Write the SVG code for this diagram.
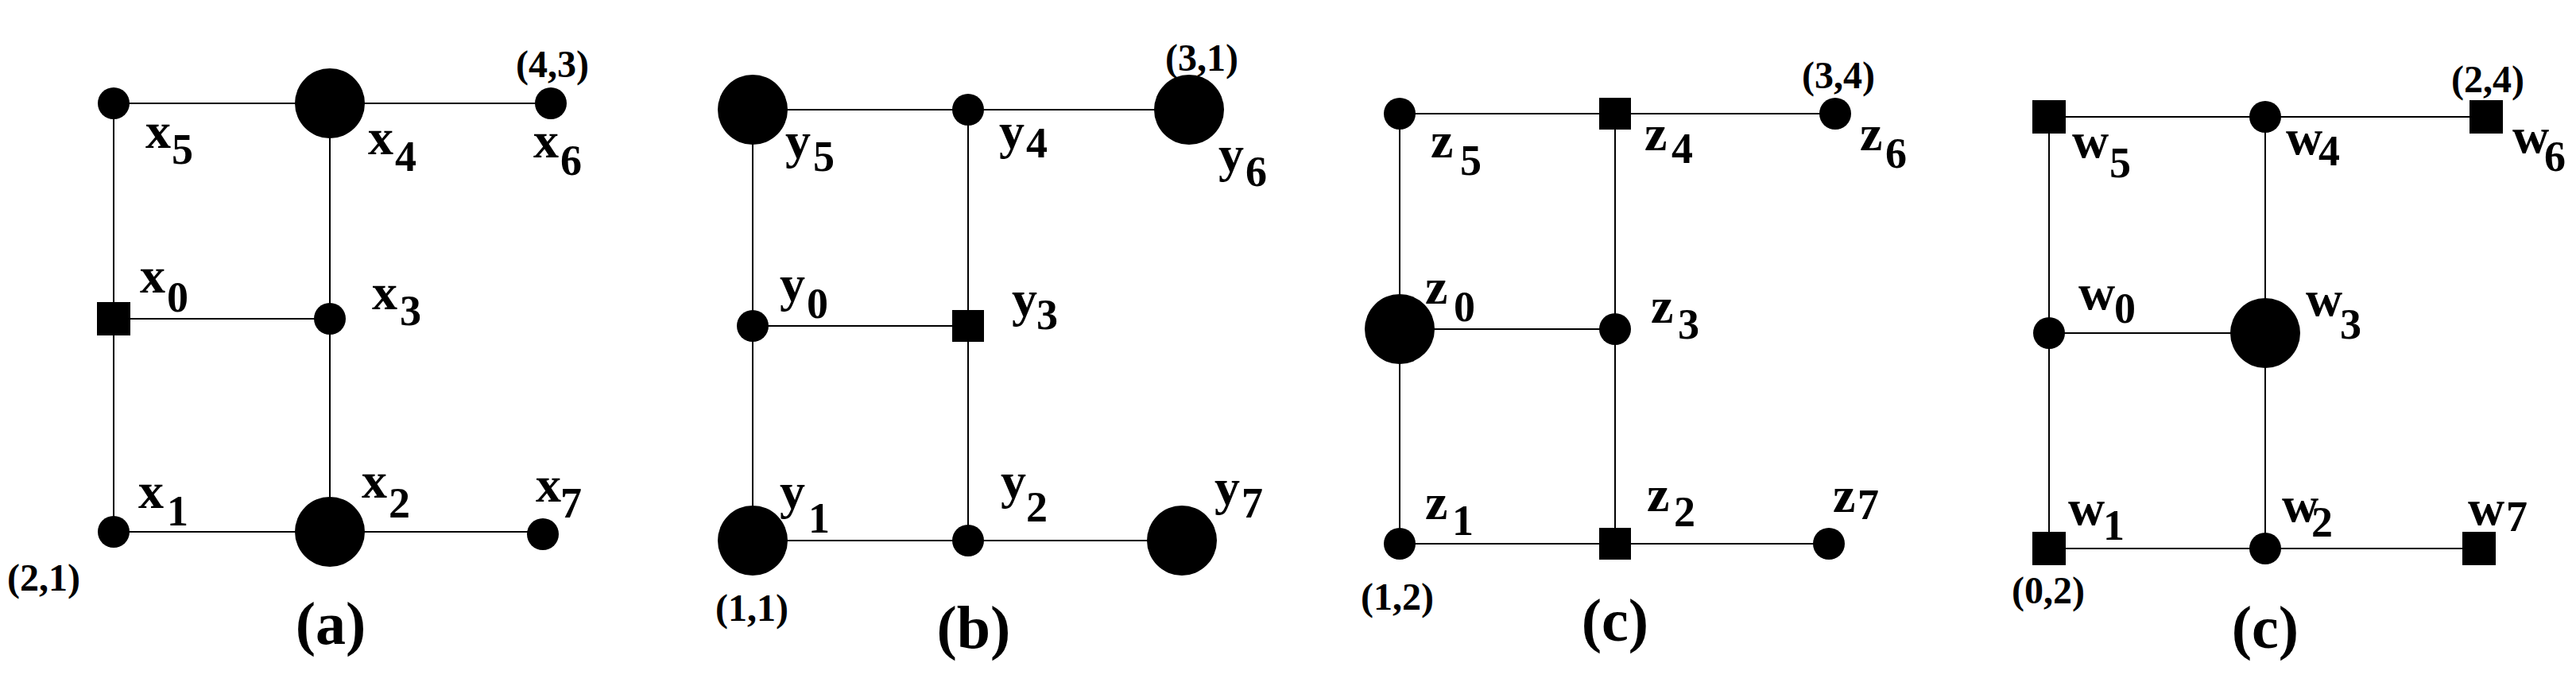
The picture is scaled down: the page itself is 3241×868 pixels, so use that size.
<svg xmlns="http://www.w3.org/2000/svg" width="3241" height="868" viewBox="0 0 3241 868">
<style>
.e{stroke:#000;stroke-width:2;fill:none}
.n{fill:#000}
.l{font-family:"Liberation Serif",serif;font-weight:bold;font-size:64px;fill:#000}
.s{font-size:54px}
.c{font-family:"Liberation Serif",serif;font-weight:bold;font-size:48px;fill:#000;text-anchor:middle}
.p{font-family:"Liberation Serif",serif;font-weight:bold;font-size:76px;fill:#000;text-anchor:middle}
</style>
<rect width="3241" height="868" fill="#fff"/>
<g id="connectors" class="e">
<path d="M143 130H693M143 401H415M143 669H683M143 130V669M415 130V669"/>
<path d="M947 138H1496M947 410H1218M947 680H1487M947 138V680M1218 138V680"/>
<path d="M1761 143H2309M1761 414H2032M1761 684H2301M1761 143V684M2032 143V684"/>
<path d="M2578 147H3128M2578 419H2850M2578 690H3119M2578 147V690M2850 147V690"/>
</g>
<g id="panel-a">
<g id="x5"><circle class="n" cx="143" cy="130" r="20"/><text class="l" x="183" y="186">x<tspan class="s" x="216" y="206">5</tspan></text></g>
<g id="x4"><circle class="n" cx="415" cy="130" r="44"/><text class="l" x="463" y="194">x<tspan class="s" x="497" y="215">4</tspan></text></g>
<g id="x6"><circle class="n" cx="693" cy="130" r="20"/><text class="l" x="671" y="198">x<tspan class="s" x="705" y="220">6</tspan></text><text class="c" x="695" y="97">(4,3)</text></g>
<g id="x0"><rect class="n" x="122" y="380" width="42" height="42"/><text class="l" x="176" y="368">x<tspan class="s" x="210" y="392">0</tspan></text></g>
<g id="x3"><circle class="n" cx="415" cy="401" r="20"/><text class="l" x="468" y="389">x<tspan class="s" x="503" y="409">3</tspan></text></g>
<g id="x1"><circle class="n" cx="143" cy="669" r="20"/><text class="l" x="174" y="639">x<tspan class="s" x="210" y="661">1</tspan></text><text class="c" x="55" y="743">(2,1)</text></g>
<g id="x2"><circle class="n" cx="415" cy="669" r="44"/><text class="l" x="455" y="626">x<tspan class="s" x="489" y="651">2</tspan></text></g>
<g id="x7"><circle class="n" cx="683" cy="672" r="20"/><text class="l" x="674" y="631">x<tspan class="s" x="705" y="651">7</tspan></text></g>
<text class="p" x="416" y="810">(a)</text>
</g>
<g id="panel-b">
<g id="y5"><circle class="n" cx="947" cy="138" r="44"/><text class="l" x="988" y="198">y<tspan class="s" x="1023" y="215">5</tspan></text></g>
<g id="y4"><circle class="n" cx="1218" cy="138" r="20"/><text class="l" x="1257" y="186">y<tspan class="s" x="1291" y="198">4</tspan></text></g>
<g id="y6"><circle class="n" cx="1496" cy="138" r="44"/><text class="l" x="1533" y="215">y<tspan class="s" x="1567" y="234">6</tspan></text><text class="c" x="1512" y="89">(3,1)</text></g>
<g id="y0"><circle class="n" cx="947" cy="410" r="20"/><text class="l" x="981" y="378">y<tspan class="s" x="1015" y="400">0</tspan></text></g>
<g id="y3"><rect class="n" x="1198" y="390" width="40" height="40"/><text class="l" x="1273" y="397">y<tspan class="s" x="1304" y="414">3</tspan></text></g>
<g id="y1"><circle class="n" cx="947" cy="680" r="44"/><text class="l" x="981" y="639">y<tspan class="s" x="1017" y="670">1</tspan></text><text class="c" x="946" y="781">(1,1)</text></g>
<g id="y2"><circle class="n" cx="1218" cy="680" r="20"/><text class="l" x="1259" y="626">y<tspan class="s" x="1291" y="656">2</tspan></text></g>
<g id="y7"><circle class="n" cx="1487" cy="680" r="44"/><text class="l" x="1528" y="634">y<tspan class="s" x="1562" y="651">7</tspan></text></g>
<text class="p" x="1225" y="815">(b)</text>
</g>
<g id="panel-c">
<g id="z5"><circle class="n" cx="1761" cy="143" r="20"/><text class="l" x="1800" y="198">z<tspan class="s" x="1837" y="220">5</tspan></text></g>
<g id="z4"><rect class="n" x="2012" y="123" width="40" height="40"/><text class="l" x="2069" y="189">z<tspan class="s" x="2103" y="205">4</tspan></text></g>
<g id="z6"><circle class="n" cx="2309" cy="143" r="20"/><text class="l" x="2340" y="189">z<tspan class="s" x="2372" y="211">6</tspan></text><text class="c" x="2313" y="111">(3,4)</text></g>
<g id="z0"><circle class="n" cx="1761" cy="414" r="44"/><text class="l" x="1793" y="382">z<tspan class="s" x="1829" y="404">0</tspan></text></g>
<g id="z3"><circle class="n" cx="2032" cy="414" r="20"/><text class="l" x="2077" y="406">z<tspan class="s" x="2111" y="426">3</tspan></text></g>
<g id="z1"><circle class="n" cx="1761" cy="684" r="20"/><text class="l" x="1793" y="653">z<tspan class="s" x="1827" y="673">1</tspan></text><text class="c" x="1758" y="767">(1,2)</text></g>
<g id="z2"><rect class="n" x="2012" y="664" width="40" height="40"/><text class="l" x="2072" y="643">z<tspan class="s" x="2106" y="662">2</tspan></text></g>
<g id="z7"><circle class="n" cx="2301" cy="684" r="20"/><text class="l" x="2306" y="644">z<tspan class="s" x="2337" y="653">7</tspan></text></g>
<text class="p" x="2032" y="806">(c)</text>
</g>
<g id="panel-d">
<g id="w5"><rect class="n" x="2557" y="126" width="42" height="42"/><text class="l" x="2607" y="198">w<tspan class="s" x="2654" y="223">5</tspan></text></g>
<g id="w4"><circle class="n" cx="2850" cy="147" r="20"/><text class="l" x="2876" y="194">w<tspan class="s" x="2917" y="208">4</tspan></text></g>
<g id="w6"><rect class="n" x="3107" y="126" width="42" height="42"/><text class="l" x="3161" y="192">w<tspan class="s" x="3201" y="215">6</tspan></text><text class="c" x="3130" y="116">(2,4)</text></g>
<g id="w0"><circle class="n" cx="2578" cy="419" r="20"/><text class="l" x="2615" y="389">w<tspan class="s" x="2660" y="406">0</tspan></text></g>
<g id="w3"><circle class="n" cx="2850" cy="419" r="44"/><text class="l" x="2901" y="397">w<tspan class="s" x="2944" y="426">3</tspan></text></g>
<g id="w1"><rect class="n" x="2557" y="669" width="42" height="42"/><text class="l" x="2602" y="660">w<tspan class="s" x="2646" y="679">1</tspan></text><text class="c" x="2577" y="759">(0,2)</text></g>
<g id="w2"><circle class="n" cx="2850" cy="690" r="20"/><text class="l" x="2871" y="656">w<tspan class="s" x="2908" y="675">2</tspan></text></g>
<g id="w7"><rect class="n" x="3098" y="669" width="42" height="42"/><text class="l" x="3105" y="660">w<tspan class="s" x="3153" y="668">7</tspan></text></g>
<text class="p" x="2850" y="815">(c)</text>
</g>
</svg>
